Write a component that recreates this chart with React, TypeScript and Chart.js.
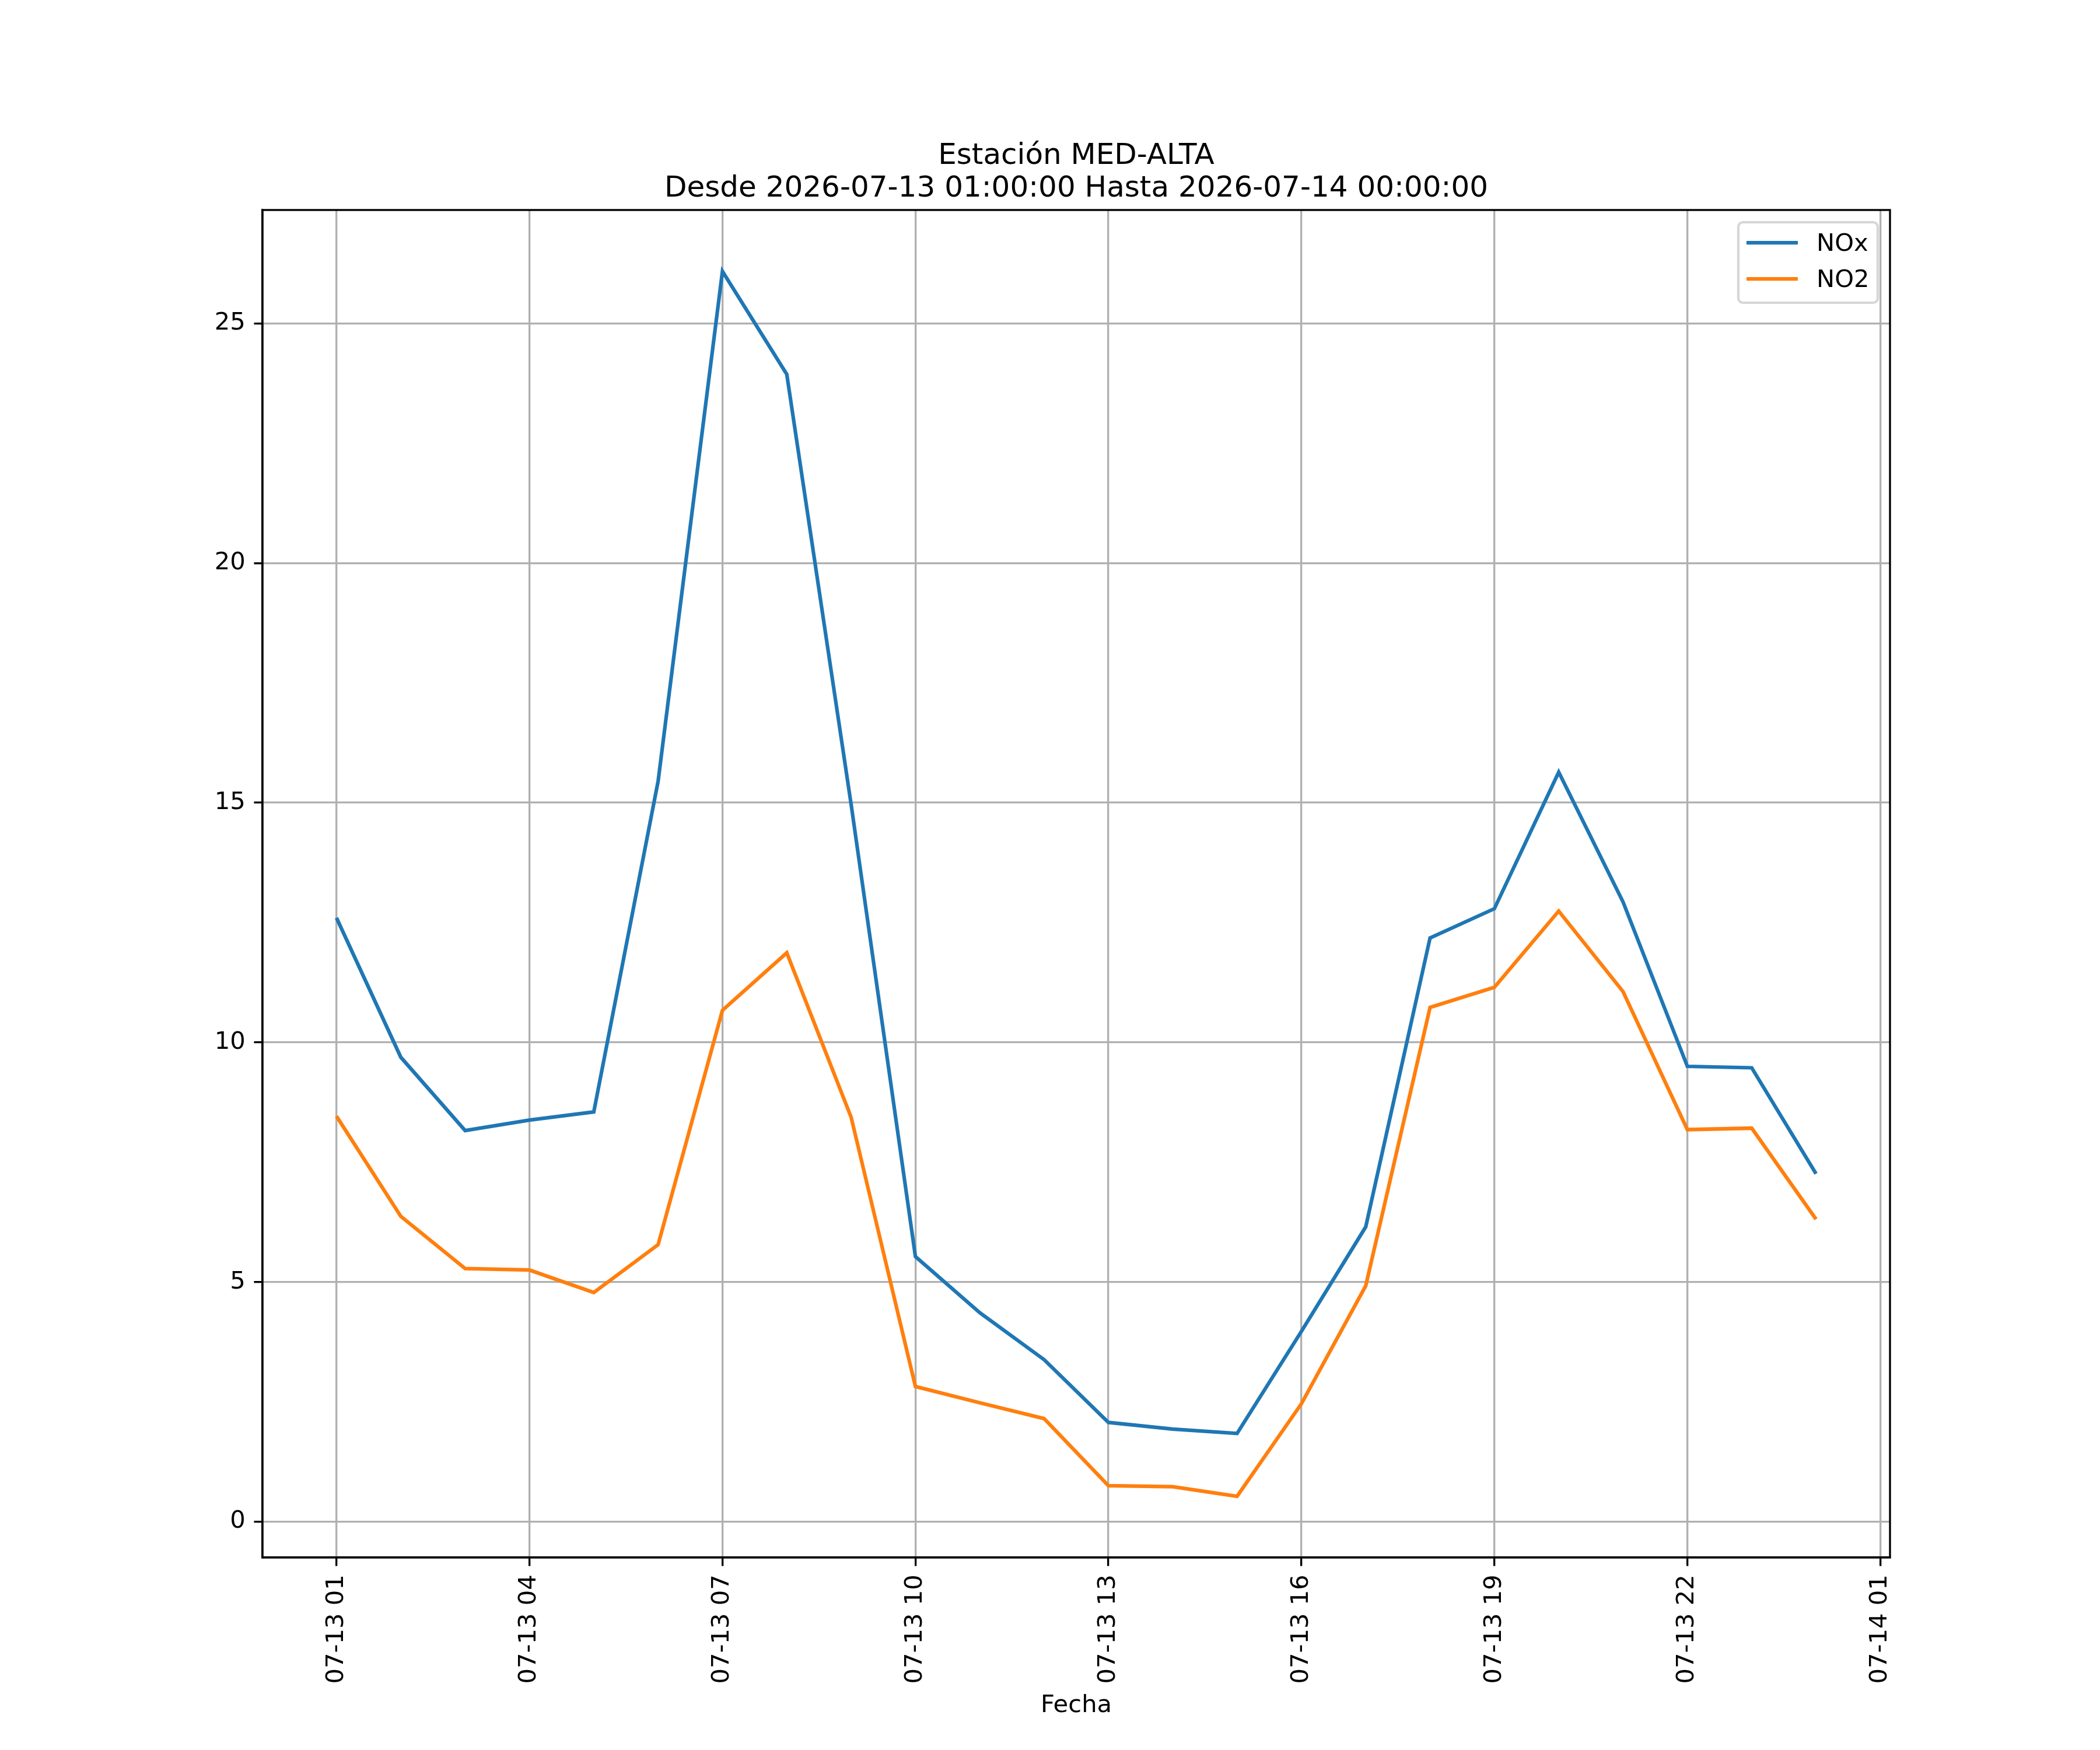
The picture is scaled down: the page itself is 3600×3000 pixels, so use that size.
import { useEffect, useRef } from 'react';
import { Chart, registerables } from 'chart.js';

Chart.register(...registerables);

// hours counted from 2026-07-13 00:00
const hours = [1, 2, 3, 4, 5, 6, 7, 8, 9, 10, 11, 12, 13, 14, 15, 16, 17, 18, 19, 20, 21, 22, 23, 24];
const nox = [12.6, 9.69, 8.16, 8.38, 8.55, 15.45, 26.09, 23.94, 14.97, 5.53, 4.36, 3.38, 2.07, 1.93, 1.84, 3.97, 6.15, 12.18, 12.79, 15.64, 12.93, 9.5, 9.47, 7.26];
const no2 = [8.46, 6.37, 5.28, 5.25, 4.78, 5.78, 10.67, 11.87, 8.44, 2.82, 2.48, 2.15, 0.75, 0.73, 0.53, 2.46, 4.92, 10.73, 11.15, 12.74, 11.06, 8.18, 8.21, 6.31];
const xTicks = [1, 4, 7, 10, 13, 16, 19, 22, 25];
const yTicks = [0, 5, 10, 15, 20, 25];

const titleLines = ['Estación MED-ALTA', 'Desde 2026-07-13 01:00:00 Hasta 2026-07-14 00:00:00'];

const FONT = 'DejaVu Sans';
const PT = 300 / 72;

function hourLabel(h: number) {
  const day = h < 24 ? '07-13' : '07-14';
  const hh = h < 24 ? h : h - 24;
  return `${day} ${String(hh).padStart(2, '0')}`;
}

function withMargin(vals: number[]) {
  const lo = Math.min(...vals);
  const hi = Math.max(...vals);
  const m = (hi - lo) * 0.05;
  return [lo - m, hi + m];
}

const framePlugin = {
  id: 'mplFrame',
  afterDatasetsDraw(chart: Chart) {
    const { ctx, chartArea: a } = chart;
    ctx.save();
    ctx.strokeStyle = '#000';
    ctx.lineWidth = 0.8 * PT;
    ctx.strokeRect(a.left, a.top, a.right - a.left, a.bottom - a.top);
    ctx.restore();
  },
  afterDraw(chart: Chart) {
    const { ctx, chartArea: a } = chart;
    ctx.save();
    // title
    ctx.fillStyle = '#000';
    ctx.textAlign = 'center';
    ctx.textBaseline = 'alphabetic';
    ctx.font = `${12 * PT}px "${FONT}"`;
    const cx = (a.left + a.right) / 2;
    ctx.fillText(titleLines[0], cx, a.top - 79);
    ctx.fillText(titleLines[1], cx, a.top - 23);

    // legend
    const fs = 10 * PT;
    const w = 239;
    const h = 138;
    const x0 = a.right - 21 - w;
    const y0 = a.top + 21;
    ctx.beginPath();
    ctx.roundRect(x0, y0, w, h, 8);
    ctx.fillStyle = 'rgba(255,255,255,0.8)';
    ctx.fill();
    ctx.strokeStyle = 'rgba(204,204,204,0.8)';
    ctx.lineWidth = 1 * PT;
    ctx.stroke();
    ctx.font = `${fs}px "${FONT}"`;
    ctx.textAlign = 'left';
    chart.data.datasets.forEach((ds, i) => {
      const ly = y0 + 35 + i * 62;
      ctx.strokeStyle = ds.borderColor as string;
      ctx.lineWidth = 1.5 * PT;
      ctx.beginPath();
      ctx.moveTo(x0 + 14, ly);
      ctx.lineTo(x0 + 102, ly);
      ctx.stroke();
      ctx.fillStyle = '#000';
      ctx.fillText(ds.label as string, x0 + 134, ly + 14);
    });
    ctx.restore();
  },
};

export default function App() {
  const canvasRef = useRef<HTMLCanvasElement | null>(null);

  useEffect(() => {
    if (!canvasRef.current) return;
    const [xMin, xMax] = withMargin(hours);
    const [yMin, yMax] = withMargin([...nox, ...no2]);
    const tickFont = { family: FONT, size: 10 * PT };
    const grid = {
      color: '#b0b0b0',
      lineWidth: 0.8 * PT,
      tickLength: 3.5 * PT,
      tickColor: '#000',
      tickWidth: 0.8 * PT,
    };
    const border = { display: true, color: '#000', width: 0.8 * PT };

    const chart = new Chart(canvasRef.current, {
      type: 'line',
      data: {
        datasets: [
          {
            label: 'NOx',
            data: hours.map((h, i) => ({ x: h, y: nox[i] })),
            borderColor: '#1f77b4',
            borderWidth: 1.5 * PT,
            pointRadius: 0,
            tension: 0,
            fill: false,
          },
          {
            label: 'NO2',
            data: hours.map((h, i) => ({ x: h, y: no2[i] })),
            borderColor: '#ff7f0e',
            borderWidth: 1.5 * PT,
            pointRadius: 0,
            tension: 0,
            fill: false,
          },
        ],
      },
      options: {
        animation: false,
        responsive: false,
        devicePixelRatio: 1,
        layout: { padding: { top: 360, right: 360, left: 0, bottom: 0 } },
        plugins: {
          legend: { display: false },
          title: { display: false },
          tooltip: { enabled: false },
        },
        scales: {
          x: {
            type: 'linear',
            min: xMin,
            max: xMax,
            afterBuildTicks: (s) => {
              s.ticks = xTicks.map((v) => ({ value: v }));
            },
            afterFit: (s) => {
              s.height = 330;
            },
            ticks: {
              autoSkip: false,
              maxRotation: 90,
              minRotation: 90,
              padding: 3.5 * PT,
              color: '#000',
              font: tickFont,
              callback: (v) => hourLabel(Number(v)),
            },
            grid,
            border,
            title: {
              display: true,
              text: 'Fecha',
              color: '#000',
              font: tickFont,
              padding: { top: 0, bottom: 51 },
            },
          },
          y: {
            type: 'linear',
            min: yMin,
            max: yMax,
            afterBuildTicks: (s) => {
              s.ticks = yTicks.map((v) => ({ value: v }));
            },
            afterFit: (s) => {
              s.width = 450;
            },
            ticks: {
              padding: 3.5 * PT,
              color: '#000',
              font: tickFont,
              callback: (v) => String(v),
            },
            grid,
            border,
          },
        },
      },
      plugins: [framePlugin],
    });

    return () => chart.destroy();
  }, []);

  return (
    <div style={{ position: 'absolute', left: 0, top: 0, width: 3600, height: 3000, background: '#fff' }}>
      <canvas ref={canvasRef} width={3600} height={3000} />
    </div>
  );
}
